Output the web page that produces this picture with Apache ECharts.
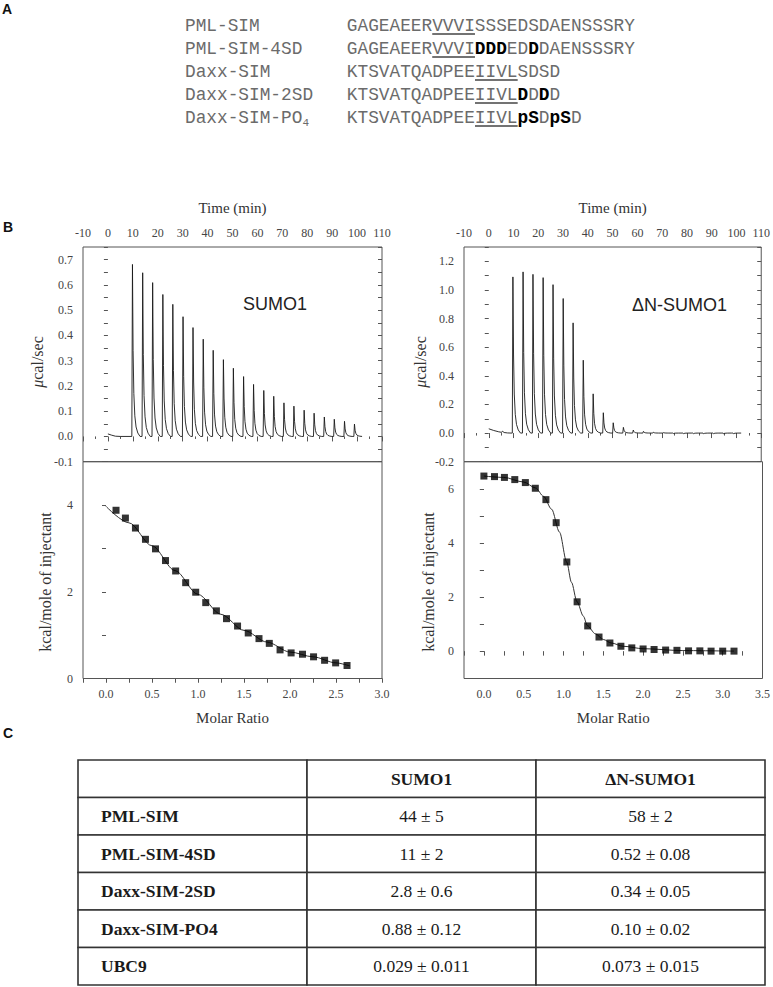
<!DOCTYPE html>
<html><head><meta charset="utf-8">
<script src="https://cdn.jsdelivr.net/npm/echarts@6/dist/echarts.min.js"></script>
<style>html,body{margin:0;padding:0;background:#fff}#c{width:773px;height:987px}</style>
</head><body><div id="c"></div>
<script>
// ---------------- Panel A: peptide sequences ----------------
const seqNames = ['PML-SIM', 'PML-SIM-4SD', 'Daxx-SIM', 'Daxx-SIM-2SD', 'Daxx-SIM-PO'];
const seqNameSub = ['', '', '', '', '4'];
const seqParts = [
  [['GAGEAEERVVVISSSEDSDAENSSSRY', 0]],
  [['GAGEAEERVVVI', 0], ['DDD', 1], ['ED', 0], ['D', 1], ['DAENSSSRY', 0]],
  [['KTSVATQADPEEIIVLSDSD', 0]],
  [['KTSVATQADPEEIIVL', 0], ['D', 1], ['D', 0], ['D', 1], ['D', 0]],
  [['KTSVATQADPEEIIVL', 0], ['pS', 1], ['D', 0], ['pS', 1], ['D', 0]]
];
const simMotif = [[8, 12], [8, 12], [12, 16], [12, 16], [12, 16]];

// ---------------- Panel B: raw ITC (time, min ; peak height, µcal/sec) ----------------
const injTimesL = [9.6, 13.7, 17.7, 21.8, 25.8, 29.9, 33.9, 38.0, 42.0, 46.1, 50.1, 54.2, 58.2, 62.3, 66.3, 70.4, 74.4, 78.5, 82.5, 86.6, 90.6, 94.7, 98.7];
const peakL = [0.681, 0.648, 0.609, 0.562, 0.523, 0.474, 0.431, 0.385, 0.341, 0.304, 0.270, 0.237, 0.206, 0.182, 0.159, 0.133, 0.120, 0.104, 0.092, 0.077, 0.068, 0.060, 0.049];
const leadL = [[0, 0.010], [1.5, 0.005], [3, 0.001], [5, 0]];
const endL = 102;

const injTimesR = [9.5, 13.6, 17.6, 21.7, 25.7, 29.8, 33.8, 37.9, 41.9, 46.0, 50.0, 54.1, 58.1, 62.2, 66.2, 70.3, 74.3, 78.4, 82.4, 86.5, 90.5, 94.6, 98.6];
const peakR = [1.091, 1.126, 1.109, 1.086, 1.037, 0.940, 0.770, 0.509, 0.274, 0.142, 0.072, 0.040, 0.021, 0.012, 0.006, 0.003, -0.003, -0.004, -0.004, -0.005, -0.004, -0.005, -0.004];
const leadR = [[0, 0.030], [2, 0.018], [4, 0.009], [5.2, 0.005], [5.5, 0.013], [6.2, 0.004], [7.5, 0.001], [9, 0]];
const endR = 102;

// shape of one injection spike (min after injection, fraction of peak)
const pulseOffset = [0, 0.25, 0.5, 0.8, 1.2, 1.7, 2.4, 3.3];
const pulseShape = [0, 1, 0.5, 0.25, 0.12, 0.055, 0.02, 0];

// ---------------- Panel B: integrated heats ----------------
const molarL = [0.109, 0.211, 0.32, 0.429, 0.538, 0.647, 0.757, 0.866, 0.975, 1.084, 1.2, 1.31, 1.43, 1.546, 1.663, 1.775, 1.892, 2.012, 2.136, 2.256, 2.376, 2.496, 2.62];
const heatL = [3.88, 3.70, 3.47, 3.21, 2.99, 2.72, 2.48, 2.21, 1.99, 1.75, 1.56, 1.38, 1.21, 1.05, 0.92, 0.81, 0.66, 0.59, 0.56, 0.50, 0.42, 0.36, 0.30];
const fitLx = [0, 0.25, 0.5, 0.75, 1.0, 1.25, 1.5, 1.75, 2.0, 2.25, 2.5, 2.65];
const fitLy = [3.97, 3.59, 3.06, 2.49, 1.94, 1.48, 1.11, 0.84, 0.61, 0.50, 0.36, 0.29];

const molarR = [0.0, 0.133, 0.258, 0.388, 0.521, 0.646, 0.779, 0.908, 1.042, 1.171, 1.304, 1.446, 1.583, 1.721, 1.858, 2.0, 2.138, 2.283, 2.425, 2.571, 2.713, 2.854, 3.0, 3.142];
const heatR = [6.47, 6.45, 6.42, 6.34, 6.23, 6.02, 5.60, 4.75, 3.30, 1.83, 0.94, 0.53, 0.31, 0.19, 0.13, 0.09, 0.07, 0.05, 0.04, 0.02, 0.02, 0.01, 0.01, 0.01];
const fitRx = [0, 0.25, 0.5, 0.65, 0.75, 0.85, 0.95, 1.04, 1.1, 1.17, 1.25, 1.3, 1.4, 1.5, 1.6, 1.75, 2.0, 2.5, 3.142];
const fitRy = [6.47, 6.42, 6.25, 6.03, 5.72, 5.25, 4.40, 3.30, 2.55, 1.83, 1.30, 0.95, 0.65, 0.44, 0.31, 0.19, 0.10, 0.03, 0.01];

// ---------------- Panel C: table ----------------
const tableHead = ['', 'SUMO1', '\u0394N-SUMO1'];
const tableRows = ['PML-SIM', 'PML-SIM-4SD', 'Daxx-SIM-2SD', 'Daxx-SIM-PO4', 'UBC9'];
const kdSumo1 = ['44 \u00b1 5', '11 \u00b1 2', '2.8 \u00b1 0.6', '0.88 \u00b1 0.12', '0.029 \u00b1 0.011'];
const kdDnSumo1 = ['58 \u00b1 2', '0.52 \u00b1 0.08', '0.34 \u00b1 0.05', '0.10 \u00b1 0.02', '0.073 \u00b1 0.015'];

// ======================================================================
const serif = "'Liberation Serif','Times New Roman',serif";
const sans = "'Liberation Sans',Arial,sans-serif";
const mono = "'Liberation Mono','Courier New',monospace";
const fsA = 17.8;          // panel A font size
const cwA = 0.6 * fsA;     // monospace advance
const seqCol = 15.15;      // column where sequences start
const rowH = 23;           // panel A row pitch (px)

function thermogram(lead, times, heights, endT) {
  const pts = lead.map(p => p.slice());
  times.forEach((t, i) => pulseOffset.forEach((o, k) => pts.push([+(t + o).toFixed(3), heights[i] * pulseShape[k]])));
  pts.push([endT, 0]);
  return pts;
}
const zip = (a, b) => a.map((v, i) => [v, b[i]]);

// panel A items: one label + one (rich) sequence per row
const seqItems = [];
seqNames.forEach((n, r) => {
  const lbl = seqNameSub[r] ? `{n|${n}}{s|${seqNameSub[r]}}` : `{n|${n}}`;
  seqItems.push({ x: 0, row: r, text: lbl });
  seqItems.push({ x: seqCol, row: r, text: seqParts[r].map(([t, b]) => `{${b ? 'b' : 'n'}|${t}}`).join('') });
});
const underlineItems = simMotif.map((m, r) => ({ x1: seqCol + m[0], x2: seqCol + m[1], row: r }));
const richA = {
  n: { fontFamily: mono, fontSize: fsA, fill: '#6b6b6b', lineHeight: 20 },
  b: { fontFamily: mono, fontSize: fsA, fontWeight: 'bold', fill: '#000', lineHeight: 20 },
  s: { fontFamily: mono, fontSize: 11, fill: '#6b6b6b', lineHeight: 12, verticalAlign: 'bottom' }
};

// table items
const tableCells = [];
tableHead.forEach((h, c) => tableCells.push({ c, r: 0, text: h, bold: true }));
tableRows.forEach((n, i) => {
  tableCells.push({ c: 0, r: i + 1, text: n, bold: true });
  tableCells.push({ c: 1, r: i + 1, text: kdSumo1[i], bold: false });
  tableCells.push({ c: 2, r: i + 1, text: kdDnSumo1[i], bold: false });
});

const isMult = (v, s) => Math.abs(v / s - Math.round(v / s)) < 1e-6;
const fmt = (step, digits, lo) => v => (isMult(v, step) && v >= lo - 1e-9) ? v.toFixed(digits) : '';
const tickColor = '#555';

function vAxis(o) {
  return {
    type: 'value', gridIndex: o.grid, position: o.pos, min: o.min, max: o.max, interval: o.interval,
    axisLine: { show: false }, splitLine: { show: false },
    axisTick: { show: true, inside: !!o.inside, length: o.tick || 4, lineStyle: { color: tickColor, width: 1 } },
    minorTick: o.minor ? { show: true, splitNumber: o.minor, length: 2.5, lineStyle: { color: tickColor, width: 1 } } : { show: false },
    axisLabel: { show: !!o.fmt, formatter: o.fmt, fontFamily: serif, fontSize: 12, color: '#444', margin: o.margin || 10 },
    name: o.name || '', nameLocation: 'middle', nameGap: o.nameGap || 33,
    nameTextStyle: { fontFamily: serif, fontSize: 15, color: '#333' }
  };
}

const gridBox = { show: true, borderColor: '#555', borderWidth: 1, backgroundColor: 'transparent' };
const PL = 83, PR = 464, PW = 299, TOP = 247, MID = 461.7, BOT = 678.5;
const rowA0 = 26;

const option = {
  animation: false,
  backgroundColor: '#fff',
  grid: [
    { left: 185, top: rowA0 - rowH / 2, width: 45 * cwA, height: 5 * rowH },
    Object.assign({ left: PL, top: TOP, width: PW, height: MID - TOP }, gridBox),
    Object.assign({ left: PL, top: MID, width: PW, height: BOT - MID }, gridBox),
    Object.assign({ left: PR, top: TOP, width: PW, height: MID - TOP }, gridBox),
    Object.assign({ left: PR, top: MID, width: PW, height: BOT - MID }, gridBox),
    { left: 78, top: 760, width: 687, height: 225 }
  ],
  xAxis: [
    { type: 'value', gridIndex: 0, min: 0, max: 45, show: false },
    vAxis({ grid: 1, pos: 'top', min: -10, max: 110, interval: 10, inside: true, tick: 5, minor: 2, fmt: v => String(v), margin: 8, name: 'Time (min)', nameGap: 32 }),
    vAxis({ grid: 2, pos: 'bottom', min: -0.25, max: 3.0, interval: 0.25, fmt: fmt(0.5, 1, 0), margin: 9, name: 'Molar Ratio', nameGap: 32 }),
    vAxis({ grid: 2, pos: 'top', min: -0.25, max: 3.0, interval: 0.25, inside: true }),
    vAxis({ grid: 3, pos: 'top', min: -10, max: 110, interval: 10, inside: true, tick: 5, minor: 2, fmt: v => String(v), margin: 8, name: 'Time (min)', nameGap: 32 }),
    vAxis({ grid: 4, pos: 'bottom', min: -0.25, max: 3.5, interval: 0.25, fmt: fmt(0.5, 1, 0), margin: 9, name: 'Molar Ratio', nameGap: 32 }),
    vAxis({ grid: 4, pos: 'top', min: -0.25, max: 3.5, interval: 0.25, inside: true }),
    { type: 'category', gridIndex: 5, data: tableHead.map((h, i) => 'c' + i), show: false }
  ],
  yAxis: [
    { type: 'value', gridIndex: 0, min: -0.5, max: 4.5, inverse: true, show: false },
    vAxis({ grid: 1, pos: 'left', min: -0.1, max: 0.75, interval: 0.05, fmt: fmt(0.1, 1, -0.1) }),
    vAxis({ grid: 1, pos: 'right', min: -0.1, max: 0.75, interval: 0.05, inside: true }),
    vAxis({ grid: 2, pos: 'left', min: 0, max: 5, interval: 1, fmt: fmt(2, 0, 0) }),
    vAxis({ grid: 2, pos: 'right', min: 0, max: 5, interval: 1, inside: true }),
    vAxis({ grid: 3, pos: 'left', min: -0.2, max: 1.3, interval: 0.1, fmt: fmt(0.2, 1, -0.2) }),
    vAxis({ grid: 3, pos: 'right', min: -0.2, max: 1.3, interval: 0.1, inside: true }),
    vAxis({ grid: 4, pos: 'left', min: -1, max: 7, interval: 1, fmt: fmt(2, 0, 0) }),
    vAxis({ grid: 4, pos: 'right', min: -1, max: 7, interval: 1, inside: true }),
    { type: 'category', gridIndex: 5, data: ['h'].concat(tableRows), inverse: true, show: false }
  ],
  graphic: [
    { type: 'text', x: 7, y: 9, style: { text: 'A', font: `bold 14px ${sans}`, fill: '#111', align: 'center', verticalAlign: 'middle' } },
    { type: 'text', x: 8, y: 227, style: { text: 'B', font: `bold 14px ${sans}`, fill: '#111', align: 'center', verticalAlign: 'middle' } },
    { type: 'text', x: 8, y: 733, style: { text: 'C', font: `bold 14px ${sans}`, fill: '#111', align: 'center', verticalAlign: 'middle' } },
    { type: 'text', x: 243, y: 303.5, style: { text: 'SUMO1', font: `18px ${sans}`, fill: '#222', align: 'left', verticalAlign: 'middle' } },
    { type: 'text', x: 632, y: 304.5, style: { text: '\u0394N-SUMO1', font: `18px ${sans}`, fill: '#222', align: 'left', verticalAlign: 'middle' } },
    { type: 'text', x: 37, y: 362, rotation: Math.PI / 2, style: { text: '{i|\u03bc}cal/sec', font: `16px ${serif}`, fill: '#333', align: 'center', verticalAlign: 'middle', rich: { i: { fontStyle: 'italic', fontFamily: serif, fontSize: 16, fill: '#333' } } } },
    { type: 'text', x: 420, y: 362, rotation: Math.PI / 2, style: { text: '{i|\u03bc}cal/sec', font: `16px ${serif}`, fill: '#333', align: 'center', verticalAlign: 'middle', rich: { i: { fontStyle: 'italic', fontFamily: serif, fontSize: 16, fill: '#333' } } } },
    { type: 'text', x: 45, y: 582, rotation: Math.PI / 2, style: { text: 'kcal/mole of injectant', font: `16px ${serif}`, fill: '#333', align: 'center', verticalAlign: 'middle' } },
    { type: 'text', x: 428, y: 582, rotation: Math.PI / 2, style: { text: 'kcal/mole of injectant', font: `16px ${serif}`, fill: '#333', align: 'center', verticalAlign: 'middle' } }
  ],
  series: [
    // Panel A text
    {
      type: 'custom', xAxisIndex: 0, yAxisIndex: 0, silent: true,
      data: seqItems.map(it => [it.x, it.row]),
      renderItem: (params, api) => {
        const it = seqItems[params.dataIndex];
        const p = api.coord([it.x, it.row]);
        return { type: 'text', x: p[0], y: p[1], style: { text: it.text, rich: richA, font: `${fsA}px ${mono}`, fill: '#6b6b6b', align: 'left', verticalAlign: 'middle' } };
      }
    },
    // Panel A underlines (SIM motifs)
    {
      type: 'custom', xAxisIndex: 0, yAxisIndex: 0, silent: true,
      data: underlineItems.map(u => [u.x1, u.row]),
      renderItem: (params, api) => {
        const u = underlineItems[params.dataIndex];
        const a = api.coord([u.x1, u.row]), b = api.coord([u.x2, u.row]);
        return { type: 'line', shape: { x1: a[0], y1: a[1] + 8, x2: b[0], y2: b[1] + 8 }, style: { stroke: '#444', lineWidth: 1.4 } };
      }
    },
    // raw ITC
    { type: 'line', xAxisIndex: 1, yAxisIndex: 1, data: thermogram(leadL, injTimesL, peakL, endL), showSymbol: false, symbol: 'none', lineStyle: { color: '#1a1a1a', width: 0.9 }, silent: true },
    { type: 'line', xAxisIndex: 4, yAxisIndex: 5, data: thermogram(leadR, injTimesR, peakR, endR), showSymbol: false, symbol: 'none', lineStyle: { color: '#1a1a1a', width: 0.9 }, silent: true },
    // fits
    { type: 'line', xAxisIndex: 2, yAxisIndex: 3, data: zip(fitLx, fitLy), smooth: 0.3, smoothMonotone: 'x', showSymbol: false, symbol: 'none', lineStyle: { color: '#333', width: 1 }, silent: true },
    { type: 'line', xAxisIndex: 5, yAxisIndex: 7, data: zip(fitRx, fitRy), smooth: 0.3, smoothMonotone: 'x', showSymbol: false, symbol: 'none', lineStyle: { color: '#333', width: 1 }, silent: true },
    // integrated heats
    { type: 'scatter', xAxisIndex: 2, yAxisIndex: 3, data: zip(molarL, heatL), symbol: 'rect', symbolSize: 7, itemStyle: { color: '#000' }, z: 5, silent: true },
    { type: 'scatter', xAxisIndex: 5, yAxisIndex: 7, data: zip(molarR, heatR), symbol: 'rect', symbolSize: 7, itemStyle: { color: '#000' }, z: 5, silent: true },
    // table
    {
      type: 'custom', xAxisIndex: 7, yAxisIndex: 9, silent: true,
      data: tableCells.map(t => [t.c, t.r]),
      renderItem: (params, api) => {
        const t = tableCells[params.dataIndex];
        const p = api.coord([t.c, t.r]);
        const s = api.size([1, 1]);
        const x0 = p[0] - s[0] / 2, y0 = p[1] - s[1] / 2;
        return {
          type: 'group', children: [
            { type: 'rect', shape: { x: x0, y: y0, width: s[0], height: s[1] }, style: { fill: '#fff', stroke: '#333', lineWidth: 1.6 } },
            { type: 'text', x: t.c === 0 ? x0 + 23 : p[0], y: p[1], style: { text: t.text, font: `${t.bold ? 'bold ' : ''}17.5px ${serif}`, fill: '#1a1a1a', align: t.c === 0 ? 'left' : 'center', verticalAlign: 'middle' } }
          ]
        };
      }
    }
  ]
};

const chart = echarts.init(document.getElementById('c'), null, { renderer: 'svg', width: 773, height: 987 });
chart.setOption(option);
</script>
</body></html>
